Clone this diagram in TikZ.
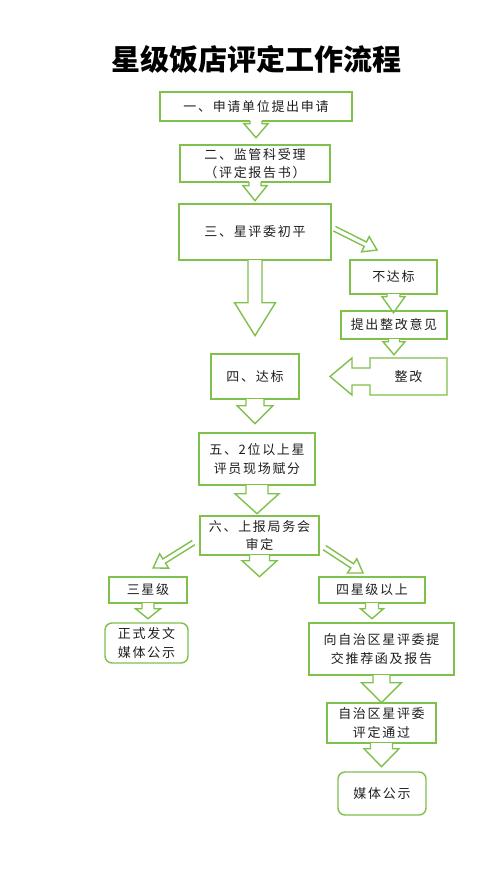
\documentclass[tikz,border=0pt]{standalone}
\usepackage{fontspec}
\newfontfamily\cjk[LetterSpace=13]{Noto Sans CJK SC}
\newfontfamily\cjktitle{Noto Sans CJK SC}
\usetikzlibrary{calc}
\definecolor{gr}{RGB}{128,192,76}
\tikzset{
  gline/.style={draw=gr,line width=1.4pt,line join=miter},
  box/.style={gline,rectangle,inner sep=0pt,align=center,
    font={\cjk\fontsize{13}{18.5}\selectfont},text=black!88},
  rbox/.style={box,rounded corners=7pt},
}
% block arrow: start, angle, length, shaft half width, head half width, head length
\newcommand\barr[6]{%
  \begin{scope}[shift={#1},rotate=#2]
    \fill[white] (-1.2,-#4) rectangle ({#3-#6},#4);
    \draw[gline] (-0.7,-#4) -- ({#3-#6},-#4) -- ({#3-#6},-#5) -- (#3,0)
      -- ({#3-#6},#5) -- ({#3-#6},#4) -- (-0.7,#4);
  \end{scope}}
\begin{document}
\begin{tikzpicture}[x=1pt,y=-1pt]
\useasboundingbox[fill=white] (0,0) rectangle (503,893);

\node[font={\cjktitle\bfseries\fontsize{29}{34}\selectfont},inner sep=0pt] (title) at (256,59) {星级饭店评定工作流程};

\node[box,minimum width=192pt,minimum height=29pt] (b1) at (256,106.5) {一、申请单位提出申请};
\node[box,minimum width=150pt,minimum height=37pt] (b2) at (255,163.5) {二、监管科受理\\（评定报告书）};
\node[box,minimum width=152pt,minimum height=56pt] (b3) at (255,232) {三、星评委初平};
\node[box,minimum width=87pt,minimum height=34pt] (b4) at (393.5,277) {不达标};
\node[box,minimum width=106pt,minimum height=28pt] (b5) at (394,325) {提出整改意见};
\draw[gline] (447,358) -- (370,358) -- (370,368) -- (352,368) -- (352,358) -- (330,376.5)
  -- (352,395) -- (352,385) -- (370,385) -- (370,395) -- (447,395) -- cycle;
\node[box,draw=none,minimum width=77pt,minimum height=37pt] (b6) at (408.5,376.5) {整改};
\node[box,minimum width=88pt,minimum height=45pt] (b7) at (255,376.5) {四、达标};
\node[box,minimum width=116pt,minimum height=52pt] (b8) at (257,459) {五、2位以上星\\评员现场赋分};
\node[box,minimum width=119pt,minimum height=39pt] (b9) at (259.5,535.5) {六、上报局务会\\审定};
\node[box,minimum width=78pt,minimum height=26pt] (b10) at (148,590) {三星级};
\node[rbox,minimum width=83pt,minimum height=40pt] (b11) at (146.5,643) {正式发文\\媒体公示};
\node[box,minimum width=106pt,minimum height=26pt] (b12) at (372,590) {四星级以上};
\node[box,minimum width=145pt,minimum height=52pt] (b13) at (381.5,649) {向自治区星评委提\\交推荐函及报告};
\node[box,minimum width=109pt,minimum height=40pt] (b14) at (381.5,723) {自治区星评委\\评定通过};
\node[rbox,minimum width=88pt,minimum height=43pt] (b15) at (382,793.5) {媒体公示};

\coordinate (d1) at (335,229);
\coordinate (d2) at (193,543);
\coordinate (d3) at (325,548);

\barr{(b1.south)}{-90}{16}{6}{12}{14}
\barr{(b2.south)}{-90}{18}{6}{12}{15}
\barr{(b3.south)}{-90}{75}{7}{20.5}{33}
\barr{(b4.south)}{-90}{18}{6.5}{11.5}{16}
\barr{(b5.south)}{-90}{15}{5.5}{11}{13}
\barr{(b7.south)}{-90}{24}{9}{18}{18}
\barr{(b8.south)}{-90}{28}{11}{22}{20}
\barr{(b9.south)}{-90}{21}{10}{17.5}{16}
\barr{(b10.south)}{-90}{15}{6}{12.5}{10}
\barr{(b12.south)}{-90}{15}{6.5}{11.5}{10}
\barr{(b13.south)}{-90}{27}{8.5}{20}{20}
\barr{(b14.south)}{-90}{23}{11}{17.5}{18}
\barr{(d1)}{-26.6}{47}{2.5}{8.5}{13}
\barr{(d2)}{212}{47}{2.5}{8.5}{13}
\barr{(d3)}{-33.3}{45.5}{2.5}{8.5}{13}
\end{tikzpicture}
\end{document}
